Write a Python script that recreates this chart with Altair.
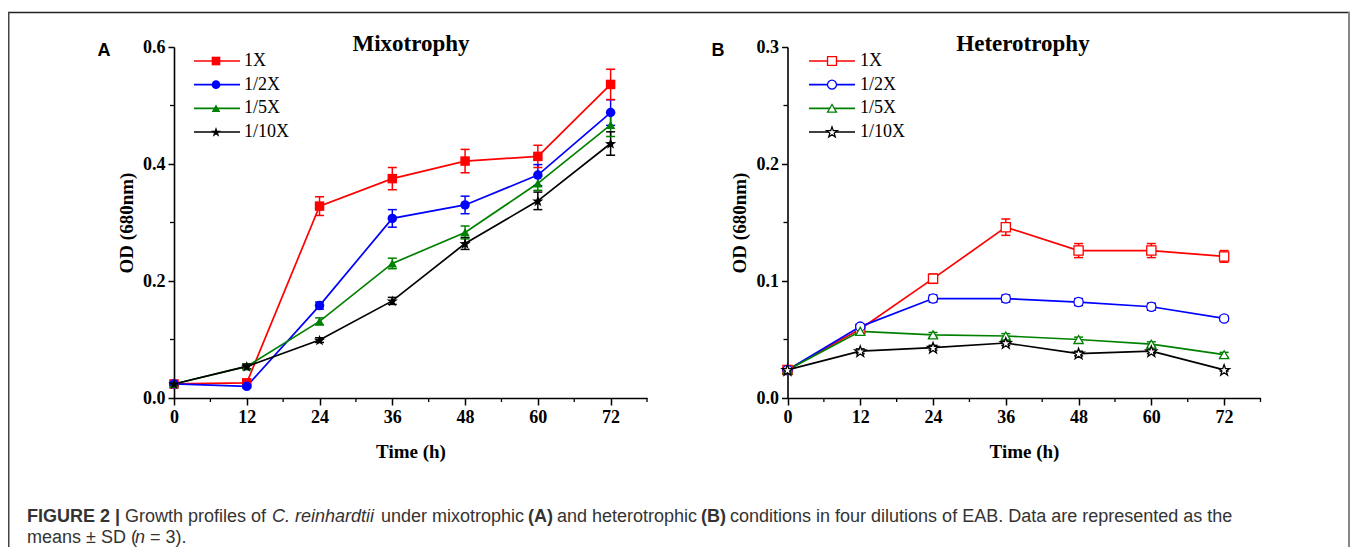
import math
import altair as alt
import pandas as pd

# ---------------- data ----------------
times = [0, 12, 24, 36, 48, 60, 72]
series = ["1X", "1/2X", "1/5X", "1/10X"]

mixo_1x = [0.024, 0.026, 0.328, 0.375, 0.405, 0.413, 0.536]
mixo_1x_sd = [0.002, 0.003, 0.016, 0.019, 0.020, 0.019, 0.026]
mixo_2x = [0.024, 0.020, 0.158, 0.307, 0.330, 0.381, 0.488]
mixo_2x_sd = [0.002, 0.003, 0.006, 0.015, 0.015, 0.018, 0.022]
mixo_5x = [0.024, 0.054, 0.131, 0.230, 0.283, 0.367, 0.467]
mixo_5x_sd = [0.002, 0.004, 0.006, 0.009, 0.011, 0.012, 0.020]
mixo_10x = [0.024, 0.054, 0.099, 0.166, 0.264, 0.337, 0.435]
mixo_10x_sd = [0.002, 0.004, 0.004, 0.006, 0.010, 0.015, 0.020]

hetero_1x = [0.024, 0.059, 0.102, 0.146, 0.126, 0.126, 0.121]
hetero_1x_sd = [0.001, 0.002, 0.004, 0.007, 0.006, 0.006, 0.005]
hetero_2x = [0.024, 0.061, 0.085, 0.085, 0.082, 0.078, 0.068]
hetero_2x_sd = [0.001, 0.002, 0.003, 0.003, 0.003, 0.003, 0.002]
hetero_5x = [0.024, 0.057, 0.054, 0.053, 0.050, 0.046, 0.037]
hetero_5x_sd = [0.001, 0.002, 0.002, 0.002, 0.002, 0.002, 0.002]
hetero_10x = [0.024, 0.040, 0.043, 0.047, 0.038, 0.040, 0.024]
hetero_10x_sd = [0.001, 0.002, 0.002, 0.002, 0.002, 0.002, 0.001]

x_ticks = [0, 12, 24, 36, 48, 60, 72]
x_minor = [6, 18, 30, 42, 54, 66, 78]
yA_ticks = [0.0, 0.2, 0.4, 0.6]
yA_minor = [0.1, 0.3, 0.5]
yB_ticks = [0.0, 0.1, 0.2, 0.3]
yB_minor = [0.05, 0.15, 0.25]

colors = ["#ff0000", "#0000ff", "#008000", "#000000"]


def build(vals, sds):
    rows = []
    for s, v, e in zip(series, vals, sds):
        for t, y, d in zip(times, v, e):
            rows.append({"time": t, "od": y, "sd": d, "series": s})
    return pd.DataFrame(rows)


dfA = build([mixo_1x, mixo_2x, mixo_5x, mixo_10x],
            [mixo_1x_sd, mixo_2x_sd, mixo_5x_sd, mixo_10x_sd])
dfB = build([hetero_1x, hetero_2x, hetero_5x, hetero_10x],
            [hetero_1x_sd, hetero_2x_sd, hetero_5x_sd, hetero_10x_sd])

# star symbol path
pts = []
for i in range(10):
    ang = -math.pi / 2 + i * math.pi / 5
    r = 1.25 if i % 2 == 0 else 0.5
    pts.append(f"{r * math.cos(ang):.3f},{r * math.sin(ang) + 0.1:.3f}")
STAR = "M" + " L".join(pts) + " Z"
shapes = ["square", "circle", "triangle-up", STAR]

W, H = 1342, 539
SERIF = "Liberation Serif"
SANS = "Liberation Sans"

color_scale = alt.Scale(domain=series, range=colors)
shape_scale = alt.Scale(domain=series, range=shapes)

AX_Y = 390      # x-axis line (view coords)
TOP_Y = 39      # top of y range


def panel(df, x_left, x_right, ymax, yticks, yminor, filled):
    xs = alt.Scale(domain=[0, 78], range=[x_left, x_right], nice=False, zero=False)
    ys = alt.Scale(domain=[0, ymax], range=[AX_Y, TOP_Y], nice=False)
    xcenter = (x_left + x_right) / 2
    x_axis = alt.Axis(
        orient="bottom", offset=AX_Y - H, values=x_ticks, grid=False,
        domainColor="black", domainWidth=1.6, tickColor="black", tickWidth=1.5,
        tickSize=7, labelFont=SERIF, labelFontWeight="bold", labelFontSize=18,
        labelColor="black", labelPadding=3, labelFlush=False,
        title="Time (h)", titleFont=SERIF, titleFontWeight="bold",
        titleFontSize=19, titleColor="black", titleX=xcenter, titleY=53,
        titleBaseline="middle", titleAlign="center",
    )
    y_axis = alt.Axis(
        orient="left", offset=-x_left, values=yticks, format=".1f", grid=False,
        domainColor="black", domainWidth=1.6, tickColor="black", tickWidth=1.5,
        tickSize=6, labelFont=SERIF, labelFontWeight="bold", labelFontSize=18,
        labelColor="black", labelPadding=3, labelFlush=False,
        title="OD (680nm)", titleFont=SERIF, titleFontWeight="bold",
        titleFontSize=19, titleColor="black", titleX=-48,
        titleY=(AX_Y + TOP_Y) / 2, titleBaseline="middle", titleAlign="center",
        titleAngle=270,
    )
    base = alt.Chart(df)
    col = alt.Color("series:N", scale=color_scale, legend=None)
    line = base.mark_line(strokeWidth=1.7).encode(
        x=alt.X("time:Q", scale=xs, axis=x_axis),
        y=alt.Y("od:Q", scale=ys, axis=y_axis),
        color=col,
        detail="series:N",
    )
    err = base.transform_calculate(
        lo="datum.od - datum.sd", hi="datum.od + datum.sd"
    )
    bar = err.mark_rule(strokeWidth=1.5).encode(
        x=alt.X("time:Q", scale=xs, axis=None),
        y=alt.Y("lo:Q", scale=ys, axis=None),
        y2="hi:Q",
        color=col,
    )
    cap_hi = err.mark_tick(orient="horizontal", size=9, thickness=1.5, opacity=1).encode(
        x=alt.X("time:Q", scale=xs, axis=None),
        y=alt.Y("hi:Q", scale=ys, axis=None),
        color=col,
    )
    cap_lo = err.mark_tick(orient="horizontal", size=9, thickness=1.5, opacity=1).encode(
        x=alt.X("time:Q", scale=xs, axis=None),
        y=alt.Y("lo:Q", scale=ys, axis=None),
        color=col,
    )
    if filled:
        pts_layer = base.mark_point(filled=True, size=90, opacity=1).encode(
            x=alt.X("time:Q", scale=xs, axis=None),
            y=alt.Y("od:Q", scale=ys, axis=None),
            color=col,
            shape=alt.Shape("series:N", scale=shape_scale, legend=None),
        )
    else:
        pts_layer = base.mark_point(filled=True, size=85, opacity=1, strokeWidth=1.3).encode(
            x=alt.X("time:Q", scale=xs, axis=None),
            y=alt.Y("od:Q", scale=ys, axis=None),
            fill=alt.value("white"),
            stroke=col,
            shape=alt.Shape("series:N", scale=shape_scale, legend=None),
        )
    xminor = alt.Chart(pd.DataFrame({"m": x_minor})).mark_rule(
        color="black", strokeWidth=1.3
    ).encode(
        x=alt.X("m:Q", scale=xs, axis=None),
        y=alt.value(AX_Y), y2=alt.value(AX_Y + 4),
    )
    yminor_l = alt.Chart(pd.DataFrame({"m": yminor})).mark_rule(
        color="black", strokeWidth=1.3
    ).encode(
        y=alt.Y("m:Q", scale=ys, axis=None),
        x=alt.value(x_left - 4), x2=alt.value(x_left),
    )
    return [line, bar, cap_hi, cap_lo, pts_layer, xminor, yminor_l]


layersA = panel(dfA, 166, 639, 0.6, yA_ticks, yA_minor, True)
layersB = panel(dfB, 779.5, 1252.5, 0.3, yB_ticks, yB_minor, False)

# ---------------- legends ----------------
leg_df = pd.DataFrame({"series": series})


def legend(x1, x2, xm, xt, filled):
    leg_y = alt.Scale(type="point", domain=series, range=[53, 124], padding=0)
    ly = alt.Y("series:N", scale=leg_y, axis=None)
    col = alt.Color("series:N", scale=color_scale, legend=None)
    b = alt.Chart(leg_df)
    rule = b.mark_rule(strokeWidth=1.7).encode(
        x=alt.value(x1), x2=alt.value(x2), y=ly, color=col,
    )
    if filled:
        p = b.mark_point(filled=True, size=75, opacity=1).encode(
            x=alt.value(xm), y=ly, color=col,
            shape=alt.Shape("series:N", scale=shape_scale, legend=None),
        )
    else:
        p = b.mark_point(filled=True, size=80, opacity=1, strokeWidth=1.3).encode(
            x=alt.value(xm), y=ly, fill=alt.value("white"), stroke=col,
            shape=alt.Shape("series:N", scale=shape_scale, legend=None),
        )
    t = b.mark_text(align="left", baseline="middle", font=SERIF, fontSize=18,
                    color="black").encode(
        x=alt.value(xt), y=ly, text="series:N",
    )
    return [rule, p, t]


legend_layers = legend(186, 232, 208, 236, True) + legend(801, 847, 824, 852, False)


# ---------------- annotations ----------------
def text_at(txt, x, y, **kw):
    style = dict(align="left", baseline="alphabetic")
    style.update(kw)
    return alt.Chart(pd.DataFrame({"t": [txt]})).mark_text(**style).encode(
        x=alt.value(x), y=alt.value(y), text="t:N"
    )


annots = [
    text_at("A", 96, 48, font=SANS, fontWeight="bold", fontSize=18, align="center", color="black"),
    text_at("B", 710, 48, font=SANS, fontWeight="bold", fontSize=18, align="center", color="black"),
    text_at("Mixotrophy", 403, 43, font=SERIF, fontWeight="bold", fontSize=23, align="center", color="black"),
    text_at("Heterotrophy", 1015, 43, font=SERIF, fontWeight="bold", fontSize=23, align="center", color="black"),
]

CAP = dict(font=SANS, fontSize=18, color="#333333")
L1, L2 = 514, 535
cap_segments = [
    ("FIGURE 2", 19, L1, {"fontWeight": "bold"}),
    ("|", 107, L1, {"fontWeight": "bold"}),
    ("Growth profiles of", 117, L1, {}),
    ("C. reinhardtii", 264, L1, {"fontStyle": "italic"}),
    ("under mixotrophic", 373, L1, {}),
    ("(A)", 520, L1, {"fontWeight": "bold"}),
    ("and heterotrophic", 549, L1, {}),
    ("(B)", 693, L1, {"fontWeight": "bold"}),
    ("conditions in four dilutions of EAB. Data are represented as the", 722, L1, {}),
    ("means \u00b1 SD (", 19, L2, {}),
    ("n", 127, L2, {"fontStyle": "italic"}),
    ("= 3).", 142, L2, {}),
]
for txt, x, y, extra in cap_segments:
    kw = dict(CAP)
    kw.update(extra)
    annots.append(text_at(txt, x, y, **kw))

frame_df = pd.DataFrame({"k": [1]})
frame = [
    alt.Chart(frame_df).mark_rule(color="#222222", strokeWidth=1.5).encode(
        x=alt.value(0), x2=alt.value(W), y=alt.value(4.5)),
    alt.Chart(frame_df).mark_rule(color="#444444", strokeWidth=1.5).encode(
        x=alt.value(0.75), y=alt.value(4), y2=alt.value(H)),
    alt.Chart(frame_df).mark_rule(color="#888888", strokeWidth=2).encode(
        x=alt.value(W - 1), y=alt.value(4), y2=alt.value(H)),
]

chart = alt.layer(*layersA, *layersB, *legend_layers, *annots, *frame).resolve_scale(
    x="independent", y="independent"
).properties(
    width=W, height=H, autosize=alt.AutoSizeParams(type="none"), padding=0,
    background="white",
).configure_view(stroke=None)

chart.save("out.html", embed_options={"renderer": "svg", "actions": False})
